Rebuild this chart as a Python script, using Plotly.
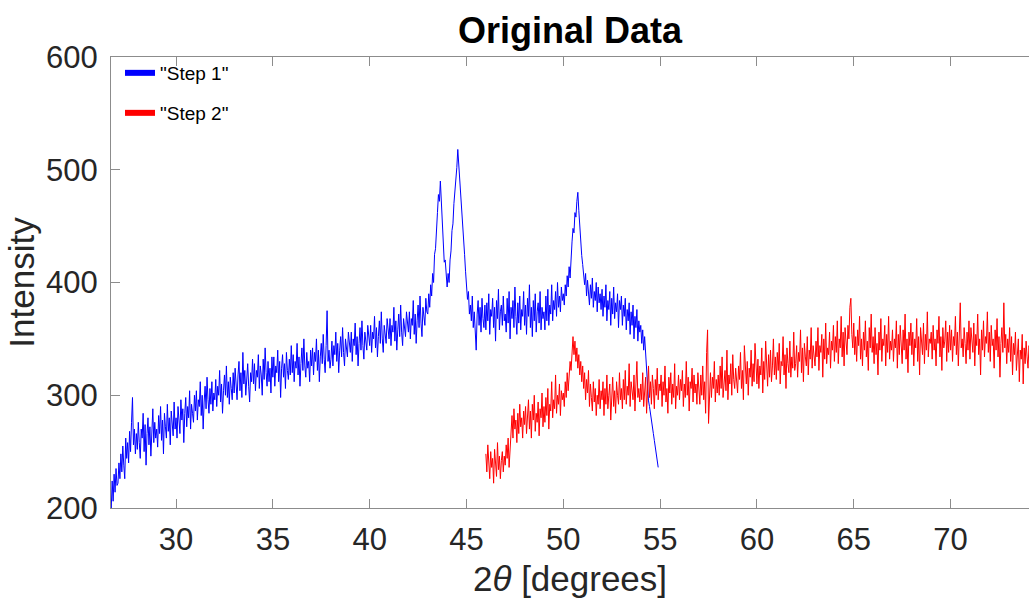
import numpy as np
import plotly.graph_objects as go

# ---- data ----
step1_start, step1_step = 26.6, 0.05
step1_values = [
    212, 198, 224, 206, 230, 214, 235, 220,
    222, 240, 226, 248, 232, 255, 238, 226, 262, 244, 258, 240, 268, 250, 276, 298, 256, 270, 248, 266,
    252, 276, 258, 244, 270, 262, 284, 250, 274, 238, 266, 280, 256, 272, 246, 268, 288, 258, 276, 262,
    270, 254, 282, 266, 290, 260, 278, 248, 284, 272, 262, 292, 268, 280, 256, 286, 274, 264, 294, 270,
    280, 262, 290, 274, 266, 296, 278, 288, 258, 284, 298, 272, 290, 280, 304, 270, 292, 284, 276, 300,
    286, 304, 278, 296, 290, 312, 282, 300, 270, 294, 308, 288, 316, 296, 284, 306, 292, 312, 286, 302,
    296, 314, 290, 308, 300, 322, 294, 310, 284, 304, 318, 300, 326, 298, 312, 292, 316, 306, 296, 320,
    302, 324, 312, 296, 318, 330, 304, 320, 298, 338, 310, 322, 300, 316, 328, 308, 294, 320, 312, 332,
    310, 328, 304, 322, 316, 336, 306, 326, 318, 300, 332, 314, 342, 320, 308, 330, 312, 324, 302, 334,
    316, 334, 308, 326, 320, 340, 312, 330, 298, 324, 336, 316, 328, 306, 338, 322, 314, 332, 318, 344,
    320, 336, 312, 330, 324, 346, 318, 334, 308, 328, 342, 322, 350, 326, 316, 338, 324, 330, 312, 340,
    326, 342, 318, 338, 330, 350, 322, 340, 312, 334, 346, 328, 354, 332, 320, 344, 375, 330, 340, 324,
    332, 348, 326, 344, 336, 356, 330, 346, 320, 340, 352, 334, 360, 338, 326, 350, 340, 334, 356, 342,
    338, 356, 330, 350, 344, 364, 336, 352, 326, 346, 360, 340, 366, 344, 332, 356, 348, 340, 362, 350,
    344, 362, 338, 356, 350, 370, 342, 360, 334, 352, 366, 346, 374, 350, 338, 362, 354, 346, 368, 356,
    350, 368, 344, 362, 356, 378, 348, 366, 340, 358, 372, 352, 380, 356, 344, 368, 360, 352, 374, 362,
    356, 374, 350, 368, 362, 384, 354, 372, 346, 366, 380, 360, 388, 364, 352, 378, 370, 362, 386, 374,
    372, 390, 378, 398, 388, 408, 400, 425, 430, 452, 462, 478, 472, 490, 468, 448, 440, 418, 420, 402,
    396, 408, 400, 420, 428, 446, 452, 470, 480, 496, 502, 518, 505, 498, 480, 470, 456, 440, 425, 410,
    398, 385, 392, 372, 380, 366, 388, 360, 374, 352, 340, 372, 384, 362, 378, 356, 386, 368, 360, 380,
    358, 382, 366, 390, 354, 376, 370, 386, 360, 378, 348, 384, 368, 394, 358, 374, 380, 362, 388, 366,
    372, 356, 386, 364, 392, 350, 378, 368, 384, 360, 396, 370, 354, 382, 364, 388, 358, 376, 370, 392,
    362, 380, 354, 386, 370, 398, 360, 378, 352, 384, 366, 390, 356, 374, 382, 364, 392, 358, 378, 368,
    374, 358, 388, 366, 394, 362, 380, 372, 398, 366, 384, 376, 392, 370, 400, 378, 388, 374, 396, 384,
    390, 380, 398, 388, 406, 396, 414, 404, 424, 436, 448, 444, 462, 458, 472, 480, 464, 448, 440, 424,
    416, 404, 398, 408, 388, 402, 394, 380, 398, 386, 404, 378, 392, 384, 400, 374, 396, 382, 390, 376,
    394, 370, 388, 378, 398, 366, 384, 376, 392, 362, 386, 372, 396, 368, 382, 374, 390, 360, 384, 376,
    388, 362, 380, 370, 386, 358, 376, 366, 382, 354, 374, 362, 380, 350, 370, 360, 376, 348, 366, 356,
    362, 346, 358, 340, 352, 336, 320, 300, 295, 290, 285, 278, 272, 266, 260, 254, 247, 241, 236,
]

step2_start, step2_step = 46.0, 0.05
step2_values = [
    248, 232, 256, 238, 226, 250, 236, 244, 222, 252, 240, 228, 258, 234, 246, 226, 242, 250, 232, 246,
    238, 256, 244, 262, 236, 252, 268, 282, 262, 288, 270, 278, 258, 284, 266, 292, 272, 280, 262, 286,
    274, 290, 266, 282, 296, 270, 286, 262, 292, 278, 300, 268, 284, 276, 294, 264, 288, 280, 302, 272,
    290, 276, 298, 282, 306, 270, 292, 286, 312, 280, 296, 288, 318, 284, 300, 292, 310, 282, 304, 296,
    302, 290, 312, 298, 320, 304, 316, 330, 322, 344, 352, 336, 348, 330, 342, 324, 336, 318, 330, 312,
    326, 306, 320, 296, 314, 302, 322, 290, 310, 298, 286, 312, 294, 306, 282, 300, 292, 314, 288, 304,
    296, 312, 282, 306, 292, 318, 288, 300, 310, 278, 298, 316, 290, 304, 284, 312, 300, 292, 320, 296,
    306, 288, 314, 296, 322, 292, 308, 300, 328, 290, 312, 302, 296, 318, 286, 310, 330, 298, 306, 294,
    310, 296, 320, 290, 308, 316, 284, 304, 326, 298, 312, 292, 318, 306, 288, 314, 300, 324, 296, 310,
    304, 318, 290, 312, 300, 326, 294, 306, 284, 316, 302, 320, 292, 310, 298, 328, 288, 308, 300, 318,
    296, 314, 304, 322, 290, 310, 298, 330, 300, 316, 286, 312, 306, 324, 294, 318, 302, 310, 292, 320,
    306, 292, 318, 300, 326, 296, 312, 284, 338, 358, 275, 304, 320, 298, 316, 306, 330, 294, 314, 302,
    318, 300, 326, 306, 334, 298, 312, 322, 304, 340, 296, 318, 310, 328, 300, 336, 314, 306, 324, 312,
    302, 326, 314, 338, 306, 322, 296, 344, 318, 310, 330, 300, 324, 316, 340, 308, 328, 312, 346, 318,
    310, 332, 306, 326, 318, 342, 302, 330, 314, 348, 320, 308, 336, 316, 340, 312, 326, 350, 318, 334,
    314, 338, 322, 346, 310, 330, 326, 352, 318, 336, 306, 342, 328, 320, 348, 316, 334, 324, 356, 322,
    328, 344, 316, 338, 330, 358, 320, 342, 312, 346, 334, 326, 352, 318, 340, 332, 360, 324, 344, 336,
    326, 348, 334, 360, 322, 344, 338, 354, 316, 350, 332, 364, 328, 342, 336, 356, 324, 348, 340, 362,
    330, 352, 338, 366, 328, 350, 342, 370, 334, 356, 326, 360, 346, 336, 362, 350, 378, 386, 354, 342,
    364, 336, 352, 330, 358, 344, 370, 332, 350, 326, 356, 340, 366, 334, 348, 322, 360, 342, 372, 338,
    352, 328, 360, 336, 346, 318, 356, 340, 368, 330, 350, 344, 362, 326, 354, 338, 370, 332, 348, 340,
    358, 330, 350, 342, 366, 324, 354, 336, 362, 346, 328, 358, 340, 372, 332, 350, 320, 356, 344, 364,
    336, 356, 326, 350, 342, 368, 330, 352, 318, 360, 344, 336, 364, 328, 354, 340, 374, 334, 350, 346,
    356, 332, 362, 340, 350, 326, 358, 346, 370, 334, 352, 322, 360, 342, 348, 366, 330, 356, 338, 362,
    340, 358, 330, 352, 344, 370, 336, 356, 326, 364, 382, 342, 350, 334, 360, 346, 328, 356, 340, 366,
    332, 360, 346, 338, 364, 326, 354, 344, 372, 336, 350, 318, 358, 340, 366, 334, 352, 346, 374, 338,
    356, 330, 362, 344, 350, 324, 358, 340, 368, 334, 352, 316, 346, 360, 338, 382, 342, 354, 328, 350,
    338, 360, 330, 352, 318, 346, 336, 356, 322, 344, 350, 312, 340, 332, 354, 310, 342, 328, 348, 334,
    324, 344, 330,
]
assert len(step1_values) == 567, len(step1_values)
assert len(step2_values) == 563, len(step2_values)

series_names = ['"Step 1"', '"Step 2"']
series_colors = ["#0000ff", "#ff0000"]
x_ticks = [30, 35, 40, 45, 50, 55, 60, 65, 70, 75]
y_ticks = [200, 300, 400, 500, 600]

x1 = step1_start + step1_step * np.arange(len(step1_values))
x2 = step2_start + step2_step * np.arange(len(step2_values))

fig = go.Figure()
fig.add_trace(go.Scatter(x=x1, y=step1_values, mode="lines",
                         line=dict(color=series_colors[0], width=1),
                         showlegend=False))
fig.add_trace(go.Scatter(x=x2, y=step2_values, mode="lines",
                         line=dict(color=series_colors[1], width=1),
                         showlegend=False))
# legend entries with thick lines (MATLAB style)
fig.add_trace(go.Scatter(x=[None], y=[None], mode="lines", name=series_names[0],
                         line=dict(color=series_colors[0], width=6), legend="legend"))
fig.add_trace(go.Scatter(x=[None], y=[None], mode="lines", name=series_names[1],
                         line=dict(color=series_colors[1], width=6), legend="legend2"))

FONT = "Liberation Sans, Arial, sans-serif"
axis_color = "#8c8c8c"
tick_font = dict(family=FONT, size=31, color="#262626")

leg_common = dict(bgcolor="rgba(0,0,0,0)", borderwidth=0,
                  font=dict(family=FONT, size=19, color="#000000"),
                  xanchor="left", yanchor="middle", itemwidth=30)

fig.update_layout(
    width=1029, height=602,
    margin=dict(l=111, r=0, t=57, b=94, autoexpand=False),
    paper_bgcolor="white", plot_bgcolor="white",
    title=dict(text="<b>Original Data</b>", x=0.5, xref="paper", xanchor="center",
               y=1 - 30 / 602, yanchor="middle",
               font=dict(family=FONT, size=36, color="#000000")),
    legend=dict(x=9 / 918, y=1 - 16 / 451, **leg_common),
    legend2=dict(x=9 / 918, y=1 - 56 / 451, **leg_common),
    xaxis=dict(range=[26.64, 74.05], tickvals=x_ticks, showgrid=False, zeroline=False,
               showline=True, linecolor=axis_color, linewidth=1, mirror="ticks",
               ticks="inside", ticklen=9, tickcolor=axis_color, tickwidth=1,
               tickfont=tick_font, ticklabelstandoff=4, automargin=False,
               title=dict(text="2<i>θ</i> [degrees]", standoff=10,
                          font=dict(family=FONT, size=35, color="#262626"))),
    yaxis=dict(range=[200, 600], tickvals=y_ticks, showgrid=False, zeroline=False,
               showline=True, linecolor=axis_color, linewidth=1, mirror=False,
               ticks="inside", ticklen=9, tickcolor=axis_color, tickwidth=1,
               tickfont=tick_font, ticklabelstandoff=6, automargin=False,
               title=dict(text="Intensity", standoff=0,
                          font=dict(family=FONT, size=35, color="#262626"))),
)

fig.write_html("out.html", config={"displayModeBar": False},
               post_script="document.body.style.margin='0';document.body.style.overflow='hidden';")
